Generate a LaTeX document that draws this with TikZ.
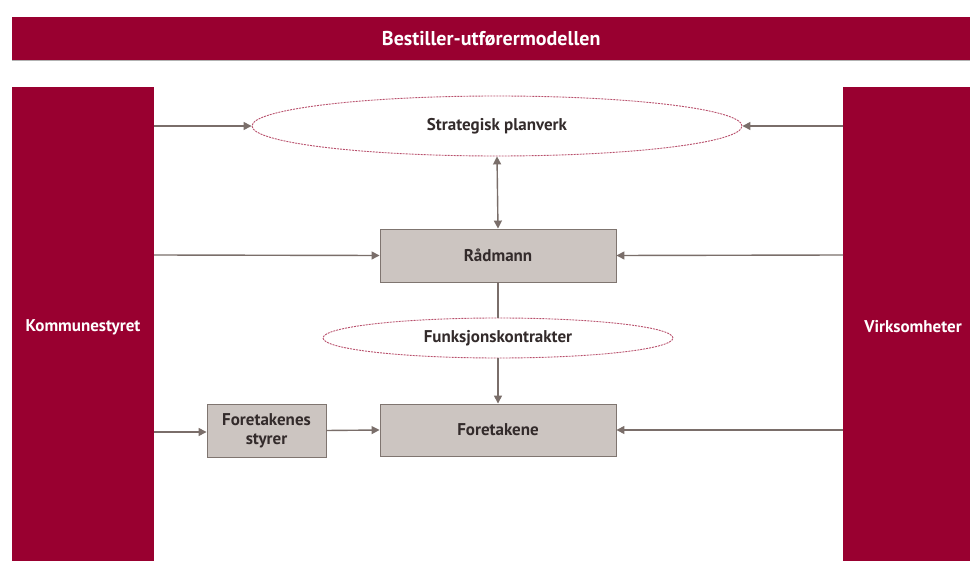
\documentclass[tikz,border=0pt]{standalone}
\usepackage{fontspec}
\setmainfont{PT Sans}
\usetikzlibrary{shapes.geometric,arrows.meta}
\definecolor{wine}{HTML}{990030}
\definecolor{boxfill}{HTML}{CCC5C1}
\definecolor{boxline}{HTML}{7F7570}
\definecolor{arr}{HTML}{7A6E6A}
\definecolor{dash}{HTML}{B8506C}
\definecolor{txt}{HTML}{332B2B}
\tikzset{
  lbl/.style={font=\bfseries\fontsize{17}{19}\selectfont},
  col/.style={fill=wine, draw=none},
  gbox/.style={lbl, draw=boxline, line width=0.9pt, fill=boxfill, text=txt, align=center, inner sep=0pt},
  oval/.style={lbl, ellipse, draw=dash, line width=0.9pt, dash pattern=on 2pt off 1pt, text=txt, inner sep=0pt},
  conn/.style={draw=arr, line width=1.4pt, -{Triangle[length=8pt,width=8pt]}},
  plain/.style={draw=arr, line width=1.4pt}
}
\begin{document}
\begin{tikzpicture}[x=1pt,y=-1pt]
\useasboundingbox (0,0) rectangle (970,561);
% header
\node[fill=wine, minimum width=958pt, minimum height=43pt, inner sep=0pt, anchor=north west, text=white, font=\bfseries\fontsize{20}{22}\selectfont] (title) at (12,17) {Bestiller-utførermodellen};
\draw[draw=gray!60, line width=0.8pt] (title.south west) -- (title.south east);
% columns
\node[col, minimum width=142pt, minimum height=474pt, inner sep=0pt, anchor=north west] (left) at (12,87) {};
\node[lbl, text=white] (lefttxt) at (83,327) {Kommunestyret};
\node[col, minimum width=127pt, minimum height=474pt, inner sep=0pt, anchor=north west] (right) at (843,87) {};
\node[lbl, text=white] (righttxt) at (913,327) {Virksomheter};
% center elements
\node[oval, minimum width=490pt, minimum height=60pt] (plan) at (497,126) {Strategisk planverk};
\node[gbox, minimum width=236pt, minimum height=53pt] (rad) at (498,255.5) {Rådmann};
\node[oval, minimum width=350pt, minimum height=40pt] (funk) at (498,338) {Funksjonskontrakter};
\node[gbox, minimum width=236pt, minimum height=52pt] (fore) at (498,430) {Foretakene};
\node[gbox, minimum width=119pt, minimum height=53pt] (styr) at (266.5,430.5) {Foretakenes\\styrer};
% coordinates on columns
\coordinate (l1) at (154,126);
\coordinate (l2) at (154,255);
\coordinate (l3) at (154,432);
\coordinate (r1) at (843,126);
\coordinate (r2) at (843,255);
\coordinate (r3) at (843,430);
% connectors
\draw[conn] (l1) -- (plan.west);
\draw[conn] (r1) -- (plan.east);
\draw[conn, {Triangle[length=8pt,width=8pt]}-{Triangle[length=8pt,width=8pt]}] (plan.south) -- (rad.north);
\draw[conn] (l2) -- (rad.west);
\draw[conn] (r2) -- (rad.east);
\draw[plain] (rad.south) -- (funk.north);
\draw[conn] (funk.south) -- (fore.north);
\draw[conn] (l3) -- (styr.west |- l3);
\draw[conn] (styr.east) -- (fore.west);
\draw[conn] (r3) -- (fore.east);
\end{tikzpicture}
\end{document}
